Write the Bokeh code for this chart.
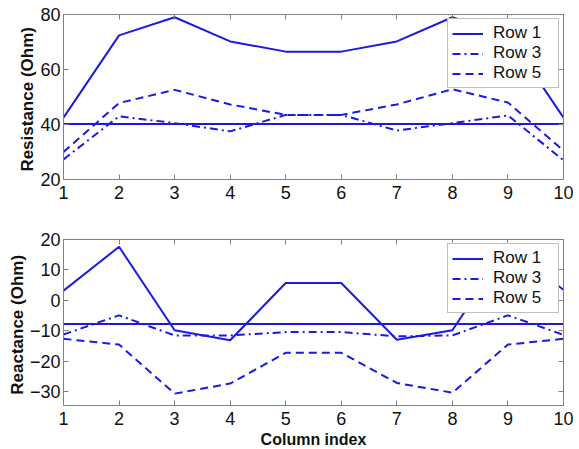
from bokeh.plotting import figure
from bokeh.layouts import column
from bokeh.models import Range1d, FixedTicker, LinearAxis, Legend, LegendItem
from bokeh.embed import file_html
from bokeh.resources import INLINE

# ---- data ----
cols = [1, 2, 3, 4, 5, 6, 7, 8, 9, 10]
x_ticks = [1, 2, 3, 4, 5, 6, 7, 8, 9, 10]

res_row1 = [42.5, 72.4, 79.0, 70.2, 66.5, 66.5, 70.2, 79.0, 72.4, 42.5]
res_row3 = [27.3, 43.0, 40.5, 37.5, 43.5, 43.5, 37.8, 40.5, 43.3, 27.0]
res_row5 = [30.0, 47.8, 52.6, 47.3, 43.5, 43.5, 47.3, 52.8, 48.0, 30.5]
res_ref = [40.2, 40.2, 40.2, 40.2, 40.2, 40.2, 40.2, 40.2, 40.2, 40.2]
res_ticks = [20, 40, 60, 80]

rea_row1 = [3.2, 17.6, -9.8, -13.1, 5.7, 5.7, -12.9, -9.8, 17.6, 3.5]
rea_row3 = [-11.2, -4.9, -11.5, -11.5, -10.4, -10.4, -11.8, -11.5, -4.9, -11.3]
rea_row5 = [-12.6, -14.5, -30.6, -27.3, -17.2, -17.2, -27.1, -30.3, -14.5, -12.6]
rea_ref = [-7.75, -7.75, -7.75, -7.75, -7.75, -7.75, -7.75, -7.75, -7.75, -7.75]
rea_ticks = [-30, -20, -10, 0, 10, 20]

labels = ["Row 1", "Row 3", "Row 5"]

BLUE = "#1a1ae0"
GRAY = "#808080"
FONT = "Liberation Sans"
TICK_FS = "18px"


def style_axis(ax, ticks, show_labels=True):
    ax.ticker = FixedTicker(ticks=ticks)
    ax.axis_line_color = GRAY
    ax.major_tick_line_color = GRAY
    ax.major_tick_in = 5
    ax.major_tick_out = 0
    ax.minor_tick_line_color = None
    ax.major_label_text_font = FONT
    ax.major_label_text_color = "#111111"
    ax.major_label_text_font_size = TICK_FS
    if show_labels:
        ax.major_label_standoff = 3
    else:
        ax.major_label_overrides = {t: "" for t in ticks}
        ax.major_label_standoff = 0
    ax.axis_label_text_font = FONT
    ax.axis_label_text_font_style = "bold"
    ax.axis_label_text_font_size = "17px"
    ax.axis_label_text_color = "#111111"
    ax.axis_label_standoff = 0


def make_fig(yr, yticks, ylabel, r1, r3, r5, ref, xlabel, top_b, frame_h, bot_b):
    p = figure(frame_width=500, frame_height=frame_h,
               x_range=Range1d(1, 10), y_range=Range1d(*yr),
               output_backend="svg", toolbar_location=None,
               min_border_left=63, min_border_right=10,
               min_border_top=top_b, min_border_bottom=bot_b,
               x_axis_location=None, y_axis_location=None)
    p.grid.visible = False
    p.outline_line_color = GRAY
    p.background_fill_color = "white"
    p.border_fill_color = "white"

    xb = LinearAxis()
    style_axis(xb, x_ticks)
    xb.major_label_standoff = 6
    if xlabel:
        xb.axis_label = xlabel
        xb.axis_label_text_font_size = "16px"
        xb.axis_label_standoff = 3
    p.add_layout(xb, "below")
    yl = LinearAxis(axis_label=ylabel)
    style_axis(yl, yticks)
    p.add_layout(yl, "left")
    xt = LinearAxis()
    style_axis(xt, x_ticks, show_labels=False)
    p.add_layout(xt, "above")
    yrr = LinearAxis()
    style_axis(yrr, yticks, show_labels=False)
    p.add_layout(yrr, "right")

    l1 = p.line(cols, r1, line_color=BLUE, line_width=2)
    l3 = p.line(cols, r3, line_color=BLUE, line_width=2, line_dash="8 4 2 4")
    l5 = p.line(cols, r5, line_color=BLUE, line_width=2, line_dash="8 5")
    p.line(cols, ref, line_color=BLUE, line_width=2)

    leg = Legend(items=[LegendItem(label=labels[0], renderers=[l1]),
                        LegendItem(label=labels[1], renderers=[l3]),
                        LegendItem(label=labels[2], renderers=[l5])],
                 location="top_right")
    leg.border_line_color = GRAY
    leg.border_line_width = 1
    leg.background_fill_color = "white"
    leg.background_fill_alpha = 1.0
    leg.label_text_font = FONT
    leg.label_text_font_size = "17px"
    leg.label_text_color = "#111111"
    leg.glyph_width = 31
    leg.glyph_height = 19
    leg.label_height = 19
    leg.label_width = 61
    leg.label_standoff = 10
    leg.padding = 4
    leg.spacing = 0
    leg.margin = 4
    p.add_layout(leg)
    return p


p1 = make_fig((20, 80), res_ticks, "Resistance  (Ohm)", res_row1, res_row3, res_row5,
              res_ref, None, 14, 165, 36)
p2 = make_fig((-34.5, 20), rea_ticks, "Reactance  (Ohm)", rea_row1, rea_row3, rea_row5,
              rea_ref, "Column index", 24, 166, 40)

layout = column(p1, p2, spacing=0)
open("out.html", "w").write(file_html(layout, INLINE))
